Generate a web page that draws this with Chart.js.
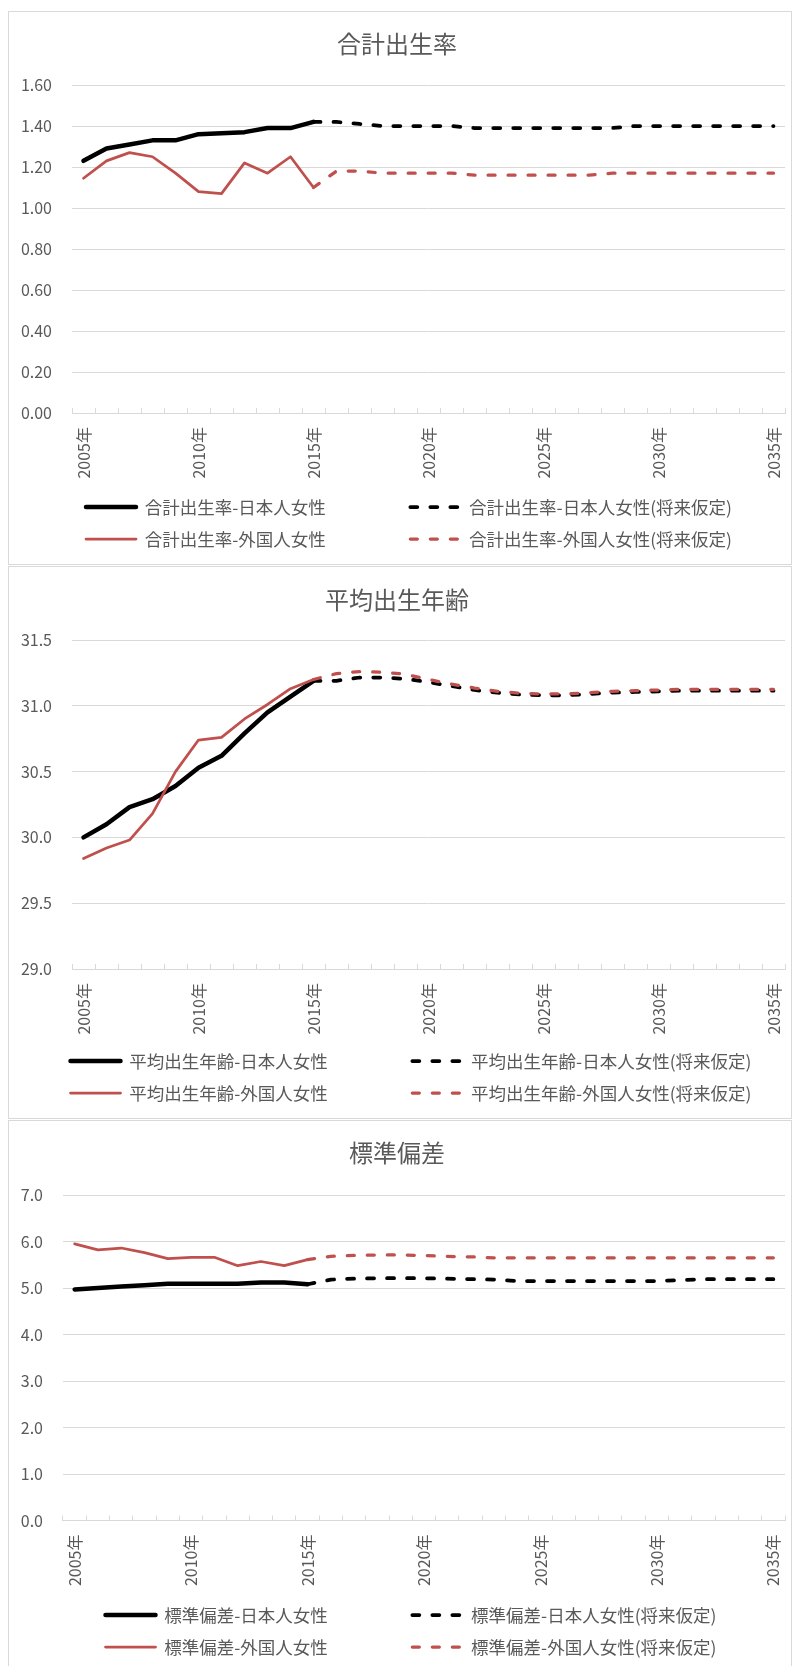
<!DOCTYPE html>
<html>
<head>
<meta charset="utf-8">
<script src="https://cdn.jsdelivr.net/npm/chart.js@4.4.1/dist/chart.umd.min.js"></script>
<style>
  body { margin: 0; background: #fff; }
  .panel { position: absolute; left: 8px; width: 782px; border: 1px solid #d9d9d9; background: #fff; }
  .panel canvas { display: block; }
</style>
</head>
<body>
<div class="panel" style="top:11px;height:552px"><canvas id="tfr" width="782" height="552"></canvas></div>
<div class="panel" style="top:566px;height:551px"><canvas id="mab" width="782" height="551"></canvas></div>
<div class="panel" style="top:1120px;height:551px"><canvas id="sd" width="782" height="551"></canvas></div>
<script>
const years = ['2005年', '2006年', '2007年', '2008年', '2009年', '2010年', '2011年', '2012年',
  '2013年', '2014年', '2015年', '2016年', '2017年', '2018年', '2019年', '2020年', '2021年',
  '2022年', '2023年', '2024年', '2025年', '2026年', '2027年', '2028年', '2029年', '2030年',
  '2031年', '2032年', '2033年', '2034年', '2035年'];

// actual values 2005-2015, assumptions 2015-2035
const tfrJapanese = [1.23, 1.29, 1.31, 1.33, 1.33, 1.36, 1.365, 1.37, 1.39, 1.39, 1.42];
const tfrJapaneseFuture = [1.42, 1.42, 1.41, 1.40, 1.40, 1.40, 1.40, 1.39, 1.39, 1.39, 1.39,
  1.39, 1.39, 1.39, 1.40, 1.40, 1.40, 1.40, 1.40, 1.40, 1.40];
const tfrForeign = [1.145, 1.23, 1.27, 1.25, 1.17, 1.08, 1.07, 1.22, 1.17, 1.25, 1.10];
const tfrForeignFuture = [1.10, 1.18, 1.18, 1.17, 1.17, 1.17, 1.17, 1.16, 1.16, 1.16, 1.16,
  1.16, 1.16, 1.17, 1.17, 1.17, 1.17, 1.17, 1.17, 1.17, 1.17];

const mabJapanese = [30.00, 30.10, 30.23, 30.29, 30.39, 30.53, 30.62, 30.79, 30.95, 31.07, 31.19];
const mabJapaneseFuture = [31.19, 31.19, 31.215, 31.215, 31.205, 31.18, 31.15, 31.12, 31.10, 31.085,
  31.08, 31.08, 31.09, 31.10, 31.105, 31.11, 31.115, 31.115, 31.115, 31.115, 31.115];
const mabForeign = [29.84, 29.92, 29.98, 30.18, 30.50, 30.74, 30.76, 30.90, 31.01, 31.13, 31.20];
const mabForeignFuture = [31.20, 31.245, 31.26, 31.255, 31.24, 31.20, 31.165, 31.135, 31.11, 31.095,
  31.09, 31.09, 31.10, 31.11, 31.115, 31.12, 31.125, 31.125, 31.125, 31.125, 31.125];

const sdJapanese = [4.97, 5.00, 5.03, 5.06, 5.09, 5.09, 5.09, 5.09, 5.12, 5.12, 5.08];
const sdJapaneseFuture = [5.08, 5.18, 5.20, 5.21, 5.21, 5.21, 5.20, 5.19, 5.18, 5.15, 5.15,
  5.15, 5.15, 5.15, 5.15, 5.15, 5.17, 5.19, 5.19, 5.19, 5.19];
const sdForeign = [5.95, 5.82, 5.86, 5.76, 5.63, 5.66, 5.66, 5.48, 5.57, 5.48, 5.61];
const sdForeignFuture = [5.61, 5.68, 5.70, 5.71, 5.71, 5.70, 5.68, 5.67, 5.65, 5.65, 5.65,
  5.65, 5.65, 5.65, 5.65, 5.65, 5.65, 5.65, 5.65, 5.65, 5.65];

const FONT = '"Noto Sans CJK JP", "Noto Sans", sans-serif';
const GREY = '#595959';
const GRID = '#d9d9d9';
const BLACK = '#000000';
const RED = '#c0504d';
const GAP = '\u3000\u3000\u3000\u3000'; // spacing between the two legend columns

function actual(values) {
  return years.map((y, i) => (i < values.length ? values[i] : null));
}
function future(values) {
  const start = years.length - values.length;
  return years.map((y, i) => (i >= start ? values[i - start] : null));
}

function series(label, data, color, width, dashed, order) {
  return {
    label: label,
    data: data,
    borderColor: color,
    backgroundColor: color,
    borderWidth: width,
    borderDash: dashed ? [7, 13] : [],
    borderCapStyle: 'round',
    borderJoinStyle: 'round',
    pointRadius: 0,
    pointHoverRadius: 0,
    tension: 0,
    fill: false,
    order: order
  };
}

function makeChart(id, opts) {
  // nudge the legend block sideways, Excel does not centre it exactly
  const legendShift = {
    id: 'legendShift',
    afterLayout(chart) {
      chart.legend.left += opts.legendDx;
      chart.legend.right += opts.legendDx;
    }
  };

  new Chart(document.getElementById(id), {
    type: 'line',
    data: {
      labels: years,
      datasets: [
        series(opts.name + '-日本人女性', actual(opts.jp), BLACK, 4.5, false, 1),
        series(opts.name + '-日本人女性(将来仮定)', future(opts.jpFuture), BLACK, 3.75, true, 1),
        series(opts.name + '-外国人女性', actual(opts.fr), RED, 2.75, false, 0),
        series(opts.name + '-外国人女性(将来仮定)', future(opts.frFuture), RED, 3.25, true, 0)
      ]
    },
    options: {
      responsive: false,
      animation: false,
      events: [],
      layout: { padding: { left: 0, right: 6, top: 0, bottom: 6.25 } },
      plugins: {
        title: {
          display: true,
          text: opts.name,
          color: GREY,
          font: { family: FONT, size: 24, weight: 'normal' },
          padding: { top: opts.titleTop, bottom: opts.titleBottom }
        },
        legend: {
          position: 'bottom',
          labels: {
            usePointStyle: true,
            pointStyle: 'line',
            pointStyleWidth: 50,
            color: GREY,
            padding: 14.5,
            font: { family: FONT, size: 17.5 },
            generateLabels(chart) {
              return chart.data.datasets.map((ds, i) => ({
                text: ds.borderDash.length ? ds.label : ds.label + GAP,
                fillStyle: ds.borderColor,
                strokeStyle: ds.borderColor,
                lineWidth: ds.borderWidth,
                lineDash: ds.borderDash,
                lineCap: 'round',
                pointStyle: 'line',
                fontColor: GREY,
                hidden: false,
                datasetIndex: i
              }));
            }
          }
        },
        tooltip: { enabled: false }
      },
      scales: {
        x: {
          offset: true,
          grid: { offset: true, drawOnChartArea: false, drawTicks: true, tickLength: -5, color: GRID },
          border: { color: GRID, width: 1 },
          ticks: {
            autoSkip: false,
            minRotation: 90,
            maxRotation: 90,
            padding: 19,
            color: GREY,
            font: { family: FONT, size: 16 },
            callback(value, index) {
              return index % 5 === 0 ? this.getLabelForValue(value) : '';
            }
          },
          afterFit(scale) {
            scale.height = opts.xHeight;
            scale.paddingLeft = 0;
            scale.paddingRight = 0;
          }
        },
        y: {
          min: opts.min,
          max: opts.max,
          grid: { color: GRID, drawTicks: false },
          border: { display: false },
          ticks: {
            stepSize: opts.step,
            padding: 20,
            color: GREY,
            font: { family: FONT, size: 16 },
            callback: v => v.toFixed(opts.decimals)
          },
          afterFit(scale) { scale.width = opts.yWidth; }
        }
      }
    },
    plugins: [legendShift]
  });
}

makeChart('tfr', {
  name: '合計出生率', jp: tfrJapanese, jpFuture: tfrJapaneseFuture, fr: tfrForeign, frFuture: tfrForeignFuture,
  min: 0, max: 1.6, step: 0.2, decimals: 2,
  titleTop: 17, titleBottom: 27.2, xHeight: 70.75, yWidth: 63, legendDx: 12
});
makeChart('mab', {
  name: '平均出生年齢', jp: mabJapanese, jpFuture: mabJapaneseFuture, fr: mabForeign, frFuture: mabForeignFuture,
  min: 29, max: 31.5, step: 0.5, decimals: 1,
  titleTop: 18.6, titleBottom: 25.6, xHeight: 68.75, yWidth: 63, legendDx: 14
});
makeChart('sd', {
  name: '標準偏差', jp: sdJapanese, jpFuture: sdJapaneseFuture, fr: sdForeign, frFuture: sdForeignFuture,
  min: 0, max: 7, step: 1, decimals: 1,
  titleTop: 17.6, titleBottom: 27.6, xHeight: 71.25, yWidth: 54, legendDx: 14
});
</script>
</body>
</html>
